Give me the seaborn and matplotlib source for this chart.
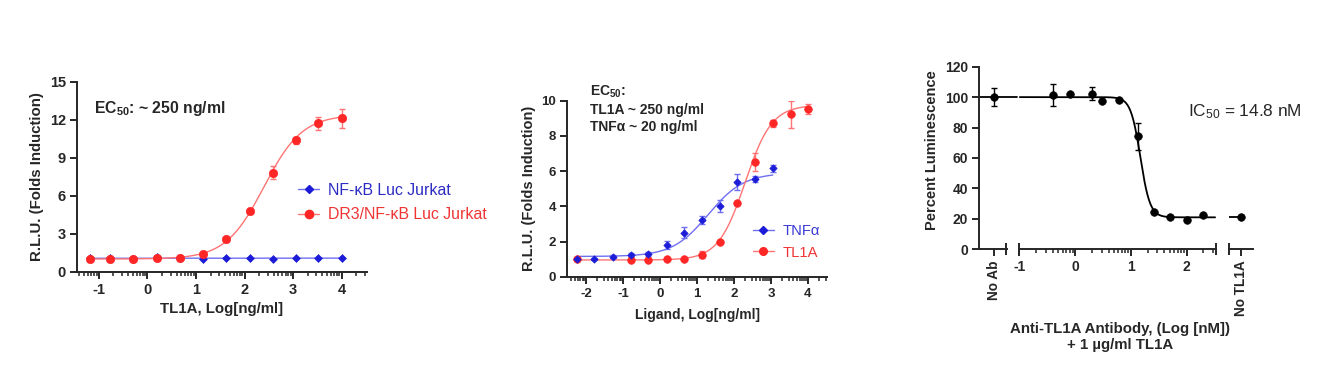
import numpy as np
import pandas as pd
import matplotlib
matplotlib.use("Agg")
import matplotlib.pyplot as plt
from matplotlib.lines import Line2D
import seaborn as sns

# ---- panel A: TL1A on NF-kB reporter Jurkat lines
A_LOG_DOSE = [-1.19, -0.76, -0.30, 0.19, 0.67, 1.15, 1.62, 2.11, 2.58, 3.05, 3.52, 4.00]
A_DR3 = [0.99, 0.99, 0.97, 1.08, 1.12, 1.38, 2.56, 4.80, 7.83, 10.37, 11.70, 12.10]
A_DR3_ERR = [0.05, 0.05, 0.05, 0.10, 0.08, 0.10, 0.12, 0.15, 0.50, 0.25, 0.50, 0.75]
A_NFKB = [1.05, 1.10, 1.00, 1.15, 1.10, 0.98, 1.05, 1.10, 1.03, 1.08, 1.10, 1.05]
A_DR3_FIT = (1.0, 12.4, 2.4, 1.1)      # bottom, top, logEC50, hill
A_NFKB_FIT = (1.06, 1.07, 2.0, 1.0)

# ---- panel B: TL1A vs TNFa on DR3/NF-kB Jurkat
B_TL1A_DOSE = [-2.24, -0.79, -0.32, 0.18, 0.66, 1.13, 1.61, 2.07, 2.58, 3.05, 3.54, 4.00]
B_TL1A = [1.00, 0.95, 0.93, 1.02, 1.02, 1.25, 2.00, 4.17, 6.53, 8.71, 9.22, 9.53]
B_TL1A_ERR = [0.05, 0.05, 0.05, 0.05, 0.05, 0.20, 0.10, 0.10, 0.50, 0.20, 0.75, 0.30]
B_TNF_DOSE = [-2.24, -1.79, -1.28, -0.79, -0.32, 0.18, 0.66, 1.13, 1.61, 2.07, 2.58, 3.05]
B_TNF = [1.00, 1.00, 1.14, 1.23, 1.29, 1.80, 2.50, 3.22, 4.03, 5.40, 5.55, 6.15]
B_TNF_ERR = [0.05, 0.05, 0.10, 0.10, 0.10, 0.25, 0.30, 0.25, 0.35, 0.45, 0.15, 0.20]
B_TL1A_FIT = (0.95, 9.75, 2.3, 1.2)
B_TNF_FIT = (1.15, 5.9, 1.3, 0.9)

# ---- panel C: anti-TL1A antibody blocking
C_LOG_NM = [-0.40, -0.09, 0.30, 0.48, 0.79, 1.12, 1.41, 1.71, 2.00, 2.30]
C_PCT = [101.5, 101.8, 102.2, 97.3, 98.2, 74.4, 24.2, 20.9, 19.3, 22.7]
C_ERR = [7.2, 0, 4.2, 0, 0, 8.9, 0, 0, 0, 0]
C_NO_AB, C_NO_AB_ERR = 100.0, 5.8
C_NO_TL1A = 20.9
C_FIT = (21.0, 100.0, np.log10(14.8), -5.0)

BLUE, BLUE_LINE = "#1c1cd8", "#6f6ff2"
RED, RED_LINE = "#ff2626", "#ff7474"
FONT = ["Liberation Sans", "DejaVu Sans"]


def four_pl(x, fit):
    bottom, top, logec50, hill = fit
    return bottom + (top - bottom) / (1 + 10 ** (hill * (logec50 - x)))


def log_minor(lo, hi):
    ticks = [d + np.log10(k) for d in range(int(np.floor(lo)) - 1, int(np.ceil(hi)) + 1)
             for k in range(2, 10)]
    return [t for t in ticks if lo <= t <= hi]


def style_axes(ax, size):
    sns.despine(ax=ax)
    for s in ("left", "bottom"):
        ax.spines[s].set_linewidth(1.4)
    ax.tick_params(which="major", length=5, width=1.4, labelsize=size, pad=3)
    ax.tick_params(which="minor", length=3, width=1.1)


def bold_ticks(ax):
    for lab in ax.get_xticklabels() + ax.get_yticklabels():
        lab.set_fontweight("bold")


def fit_line(ax, xs, fit, color, lw=1.0):
    grid = np.linspace(min(xs), max(xs), 300)
    sns.lineplot(x=grid, y=four_pl(grid, fit), color=color, lw=lw, ax=ax, zorder=2)


def points(ax, xs, ys, err, color, marker, s, ecolor):
    ax.errorbar(xs, ys, yerr=err, fmt="none", ecolor=ecolor, elinewidth=1.0,
                capsize=2.5, capthick=1.0, zorder=2)
    sns.scatterplot(x=xs, y=ys, color=color, marker=marker, s=s, edgecolor=color,
                    linewidth=0.5, ax=ax, zorder=3, legend=False)


sns.set_theme(style="ticks")
plt.rcParams["font.family"] = FONT
plt.rcParams["mathtext.default"] = "regular"
plt.rcParams["axes.unicode_minus"] = False

fig = plt.figure(figsize=(13.27, 3.85), dpi=100)

# ---------------- panel A
ax1 = fig.add_axes([0.0580, 0.2943, 0.2185, 0.4935])
fit_line(ax1, A_LOG_DOSE, A_NFKB_FIT, BLUE_LINE)
fit_line(ax1, A_LOG_DOSE, A_DR3_FIT, RED_LINE)
points(ax1, A_LOG_DOSE, A_NFKB, None, BLUE, "D", 16, BLUE)
points(ax1, A_LOG_DOSE, A_DR3, A_DR3_ERR, RED, "o", 36, RED_LINE)
ax1.set_xlim(-1.45, 4.52)
ax1.set_ylim(0, 15)
ax1.set_yticks([0, 3, 6, 9, 12, 15])
ax1.set_xticks([-1, 0, 1, 2, 3, 4])
ax1.set_xticks(log_minor(-1.45, 4.52), minor=True)
style_axes(ax1, 10.5)
bold_ticks(ax1)
ax1.set_xlabel("TL1A, Log[ng/ml]", fontsize=10.8, fontweight="bold", labelpad=4)
ax1.set_ylabel("R.L.U. (Folds Induction)", fontsize=10.8, fontweight="bold", labelpad=4)
ax1.text(0.058, 0.86, "EC$_{50}$: ~ 250 ng/ml", transform=ax1.transAxes,
         fontsize=11.3, fontweight="bold", va="center", ha="left")
hA = [Line2D([], [], color=BLUE_LINE, lw=1, marker="D", ms=4, mfc=BLUE, mec=BLUE),
      Line2D([], [], color=RED_LINE, lw=1, marker="o", ms=6, mfc=RED, mec=RED)]
ax1.legend(hA, ["NF-κB Luc Jurkat", "DR3/NF-κB Luc Jurkat"], loc="center left",
           bbox_to_anchor=(0.762, 0.365), frameon=False, fontsize=11.4,
           handlelength=1.35, handletextpad=0.55, labelspacing=0.6, borderpad=0,
           borderaxespad=0, labelcolor=["#2c2cc4", "#f03434"])

# ---------------- panel B
ax2 = fig.add_axes([0.4275, 0.2813, 0.1955, 0.4571])
fit_line(ax2, B_TNF_DOSE, B_TNF_FIT, BLUE_LINE)
fit_line(ax2, B_TL1A_DOSE, B_TL1A_FIT, RED_LINE)
points(ax2, B_TL1A_DOSE, B_TL1A, B_TL1A_ERR, RED, "o", 30, RED_LINE)
points(ax2, B_TNF_DOSE, B_TNF, B_TNF_ERR, BLUE, "D", 14, BLUE_LINE)
ax2.set_xlim(-2.51, 4.51)
ax2.set_ylim(0, 10)
ax2.set_yticks([0, 2, 4, 6, 8, 10])
ax2.set_xticks([-2, -1, 0, 1, 2, 3, 4])
ax2.set_xticks(log_minor(-2.51, 4.51), minor=True)
style_axes(ax2, 9.5)
bold_ticks(ax2)
ax2.set_xlabel("Ligand, Log[ng/ml]", fontsize=10, fontweight="bold", labelpad=6)
ax2.set_ylabel("R.L.U. (Folds Induction)", fontsize=10.5, fontweight="bold", labelpad=4)
for ypos, txt in [(1.048, "EC$_{50}$:"), (0.946, "TL1A ~ 250 ng/ml"), (0.852, "TNFα ~ 20 ng/ml")]:
    ax2.text(0.0875, ypos, txt, transform=ax2.transAxes, fontsize=10,
             fontweight="bold", va="center", ha="left")
hB = [Line2D([], [], color=BLUE_LINE, lw=1, marker="D", ms=3.6, mfc=BLUE, mec=BLUE),
      Line2D([], [], color=RED_LINE, lw=1, marker="o", ms=5.5, mfc=RED, mec=RED)]
ax2.legend(hB, ["TNFα", "TL1A"], loc="center left", bbox_to_anchor=(0.716, 0.198),
           frameon=False, fontsize=10.6, handlelength=1.4, handletextpad=0.6,
           labelspacing=0.5, borderpad=0, borderaxespad=0,
           labelcolor=["#3a3ad8", "#f03434"])

# ---------------- panel C (broken x axis: No Ab | log dose | No TL1A)
bot, hgt = 0.3525, 0.4743
ax3a = fig.add_axes([0.7378, bot, 0.0211, hgt])
ax3b = fig.add_axes([0.7681, bot, 0.1480, hgt], sharey=ax3a)
ax3c = fig.add_axes([0.9264, bot, 0.0181, hgt], sharey=ax3a)

ax3a.set_xlim(-1.1, 1.0)
ax3a.axhline(C_NO_AB, xmin=0, xmax=1.35, color="black", lw=1.3, clip_on=False)
points(ax3a, [0], [C_NO_AB], [C_NO_AB_ERR], "black", "o", 30, "black")

ax3b.set_xlim(-1.0, 2.52)
grid = np.linspace(-0.99, 2.51, 400)
sns.lineplot(x=grid, y=four_pl(grid, C_FIT), color="black", lw=1.3, ax=ax3b, zorder=2)
points(ax3b, C_LOG_NM, C_PCT, C_ERR, "black", "o", 30, "black")
ax3b.set_xticks([-1, 0, 1, 2])
ax3b.set_xticks(log_minor(-1.0, 2.52), minor=True)

ax3c.set_xlim(-1, 1)
ax3c.axhline(C_NO_TL1A, xmin=0, xmax=0.5, color="black", lw=1.3)
points(ax3c, [0], [C_NO_TL1A], None, "black", "o", 30, "black")

ax3a.set_ylim(0, 120)
ax3a.set_yticks([0, 20, 40, 60, 80, 100, 120])
for ax in (ax3a, ax3b, ax3c):
    style_axes(ax, 10)
    ax.patch.set_alpha(0)
for ax in (ax3b, ax3c):
    ax.spines["left"].set_visible(False)
    ax.tick_params(axis="y", left=False, labelleft=False)
for ax in (ax3a, ax3b, ax3c):
    bold_ticks(ax)
for ax, name in [(ax3a, "No Ab"), (ax3c, "No TL1A")]:
    ax.set_xticks([0])
    ax.set_xticklabels([name], rotation=90, fontsize=9.8, fontweight="bold")
ax3a.set_ylabel("Percent Luminescence", fontsize=10.5, fontweight="bold", labelpad=4, y=0.545)

# end caps of the axis segments
for ax, caps in [(ax3a, [0.9]), (ax3b, [-1.0, 2.52]), (ax3c, [-1])]:
    sec = ax.secondary_xaxis("bottom")
    sec.set_ticks(caps)
    sec.tick_params(direction="inout", length=9, width=1.4, labelbottom=False)
    sec.spines["bottom"].set_visible(False)

ax3b.text(0.86, 0.754, "IC$_{50}$ = 14.8 nM", transform=ax3b.transAxes,
          fontsize=12.4, va="center", ha="left")
fig.text(1120 / 1327, 1 - 337 / 385, "Anti-TL1A Antibody, (Log [nM])\n+ 1 µg/ml TL1A",
         ha="center", va="center", fontsize=10.8, fontweight="bold", linespacing=1.15)

fig.savefig("out.png", dpi=100)
